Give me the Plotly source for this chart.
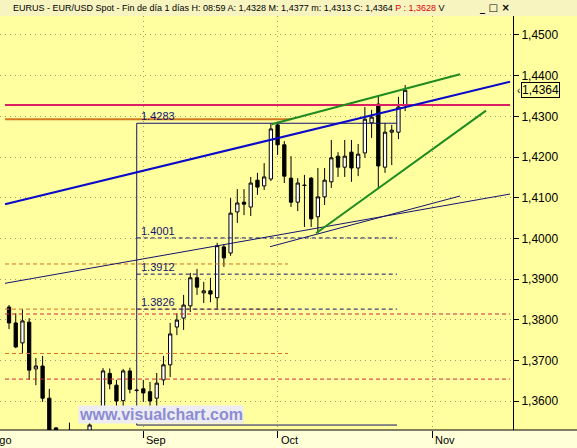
import numpy as np
import plotly.graph_objects as go

# ---------------- data ----------------
dates = [
    "2007-08-06", "2007-08-07", "2007-08-08", "2007-08-09", "2007-08-10",
    "2007-08-13", "2007-08-14", "2007-08-15", "2007-08-16", "2007-08-17",
    "2007-08-20", "2007-08-21", "2007-08-22", "2007-08-23", "2007-08-24",
    "2007-08-27", "2007-08-28", "2007-08-29", "2007-08-30", "2007-08-31",
    "2007-09-03", "2007-09-04", "2007-09-05", "2007-09-06", "2007-09-07",
    "2007-09-10", "2007-09-11", "2007-09-12", "2007-09-13", "2007-09-14",
    "2007-09-17", "2007-09-18", "2007-09-19", "2007-09-20", "2007-09-21",
    "2007-09-24", "2007-09-25", "2007-09-26", "2007-09-27", "2007-09-28",
    "2007-10-01", "2007-10-02", "2007-10-03", "2007-10-04", "2007-10-05",
    "2007-10-08", "2007-10-09", "2007-10-10", "2007-10-11", "2007-10-12",
    "2007-10-15", "2007-10-16", "2007-10-17", "2007-10-18", "2007-10-19",
    "2007-10-22", "2007-10-23", "2007-10-24", "2007-10-25", "2007-10-26",
]
opens = [
    1.3831, 1.3792, 1.3743, 1.3794, 1.3679, 1.3686, 1.3607, 1.3534, 1.3440, 1.3420,
    1.3490, 1.3475, 1.3470, 1.3560, 1.3578, 1.3668, 1.3639, 1.3601, 1.3674, 1.3627,
    1.3630, 1.3623, 1.3607, 1.3652, 1.3689, 1.3782, 1.3804, 1.3834, 1.3903, 1.3866,
    1.3871, 1.3854, 1.3979, 1.3964, 1.4065, 1.4089, 1.4077, 1.4143, 1.4129, 1.4146,
    1.4279, 1.4230, 1.4148, 1.4089, 1.4131, 1.4148, 1.4053, 1.4102, 1.4139, 1.4202,
    1.4175, 1.4212, 1.4173, 1.4210, 1.4284, 1.4330, 1.4175, 1.4261, 1.4261, 1.4328,
]
highs = [
    1.3836, 1.3816, 1.3826, 1.3804, 1.3706, 1.3711, 1.3630, 1.3536, 1.3490, 1.3547,
    1.3525, 1.3515, 1.3553, 1.3588, 1.3681, 1.3680, 1.3652, 1.3679, 1.3682, 1.3631,
    1.3652, 1.3647, 1.3669, 1.3711, 1.3792, 1.3816, 1.3861, 1.3915, 1.3925, 1.3893,
    1.3903, 1.3989, 1.3986, 1.4099, 1.4121, 1.4121, 1.4151, 1.4161, 1.4185, 1.4283,
    1.4282, 1.4239, 1.4202, 1.4148, 1.4156, 1.4151, 1.4173, 1.4173, 1.4242, 1.4212,
    1.4242, 1.4242, 1.4232, 1.4323, 1.4316, 1.4350, 1.4284, 1.4279, 1.4348, 1.4377,
]
lows = [
    1.3777, 1.3730, 1.3718, 1.3652, 1.3639, 1.3598, 1.3430, 1.3380, 1.3262, 1.3380,
    1.3440, 1.3420, 1.3455, 1.3548, 1.3548, 1.3629, 1.3586, 1.3586, 1.3619, 1.3622,
    1.3598, 1.3549, 1.3583, 1.3639, 1.3659, 1.3762, 1.3775, 1.3819, 1.3861, 1.3841,
    1.3843, 1.3824, 1.3930, 1.3957, 1.4038, 1.4057, 1.4055, 1.4107, 1.4119, 1.4141,
    1.4205, 1.4136, 1.4077, 1.4067, 1.4028, 1.4028, 1.4013, 1.4082, 1.4124, 1.4151,
    1.4151, 1.4139, 1.4153, 1.4198, 1.4247, 1.4121, 1.4161, 1.4180, 1.4244, 1.4313,
]
closes = [
    1.3792, 1.3733, 1.3797, 1.3676, 1.3686, 1.3607, 1.3450, 1.3440, 1.3420, 1.3500,
    1.3475, 1.3460, 1.3541, 1.3578, 1.3674, 1.3642, 1.3600, 1.3674, 1.3629, 1.3626,
    1.3620, 1.3600, 1.3644, 1.3689, 1.3765, 1.3799, 1.3836, 1.3903, 1.3880, 1.3871,
    1.3863, 1.3982, 1.3952, 1.4062, 1.4087, 1.4084, 1.4136, 1.4126, 1.4151, 1.4269,
    1.4230, 1.4153, 1.4089, 1.4136, 1.4130, 1.4048, 1.4102, 1.4143, 1.4198, 1.4175,
    1.4202, 1.4173, 1.4207, 1.4293, 1.4298, 1.4178, 1.4261, 1.4266, 1.4323, 1.4364,
]

month_labels = ["Ago", "Sep", "Oct", "Nov"]
month_starts = ["2007-08-01", "2007-09-01", "2007-10-01", "2007-11-01"]
price_ticks = [1.36, 1.37, 1.38, 1.39, 1.40, 1.41, 1.42, 1.43, 1.44, 1.45]

last_close = 1.4364
header_text = "EURUS - EUR/USD Spot - Fin de día 1 días H: 08:59 A: 1,4328 M: 1,4377 m: 1,4313 C: 1,4364 "
header_prev = "P : 1,3628"

# drawing tools: (bar position, price) anchors
blue_trend = [(-0.60, 1.40837), (74.62, 1.43852)]
green_upper = [(39.12, 1.42804), (67.17, 1.44034)]
green_lower = [(45.72, 1.40124), (71.04, 1.43139)]
navy_a = [(-0.60, 1.38895), (74.62, 1.41090)]
navy_b = [(38.87, 1.39795), (67.17, 1.41041)]
magenta_level = 1.4328
orange_level = 1.4293
orange_dashed_levels = [1.3937, 1.3826, 1.3717]
red_dashed_levels = [1.3814, 1.3654]
fib_high, fib_low = 1.4283, 1.3541
fib_levels = [1.4001, 1.3912, 1.3826]
fib_span = (19.02, 57.79)
left_start, right_end, orange_end = -0.60, 74.62, 42.0

# ---------------- figure ----------------
base = np.datetime64(dates[0])
xpos = np.busday_count(base, np.array(dates, dtype="datetime64[D]")).tolist()
month_pos = np.busday_count(base, np.array(month_starts, dtype="datetime64[D]")).tolist()

W, H = 577, 448
ML, MR, MT, MB = 0, 64, 16, 18
PW, PH = W - ML - MR, H - MT - MB
XR = [-1.344, 75.06]
def px(x):
    return x / PW
def py(y):
    return (H - MB - y) / PH
def xpaper(v):
    return (v - XR[0]) / (XR[1] - XR[0])

PLOT_BG = "#FFFFA0"
FONT = "Liberation Sans, Arial, sans-serif"

fig = go.Figure()
fig.add_trace(go.Candlestick(
    x=xpos, open=opens, high=highs, low=lows, close=closes,
    increasing=dict(line=dict(color="black", width=1), fillcolor="white"),
    decreasing=dict(line=dict(color="black", width=1), fillcolor="black"),
    whiskerwidth=0, showlegend=False, hoverinfo="skip",
))

shapes = []
def seg(p0, p1, color, width, dash="solid"):
    shapes.append(dict(type="line", xref="x", yref="y", x0=p0[0], y0=p0[1], x1=p1[0], y1=p1[1],
                       line=dict(color=color, width=width, dash=dash), layer="above"))

# horizontal levels
seg((left_start, magenta_level), (right_end, magenta_level), "#DC1E64", 2)
seg((left_start, orange_level), (orange_end, orange_level), "#D2781E", 2)
for lv in orange_dashed_levels:
    seg((left_start, lv), (41.55, lv), "#D2701E", 1, "4px,3px")
for lv in red_dashed_levels:
    seg((left_start, lv), (right_end, lv), "#C8283C", 1, "4px,3px")

# fib box
NAVY = "#14146E"
seg((fib_span[0], fib_high), (fib_span[1], fib_high), NAVY, 1)
seg((fib_span[0], fib_low), (fib_span[1], fib_low), NAVY, 1)
seg((fib_span[0], fib_high), (fib_span[0], fib_low), NAVY, 1)
for lv in fib_levels:
    seg((fib_span[0], lv), (fib_span[1], lv), NAVY, 1, "4px,3px")

# trendlines
seg(*navy_a, NAVY, 1)
seg(*navy_b, NAVY, 1)
seg(*blue_trend, "#0A0AC8", 2)
seg(*green_upper, "#1E8C1E", 2)
seg(*green_lower, "#1E8C1E", 2)

# background panels
shapes.append(dict(type="rect", xref="paper", yref="paper", x0=1, x1=W / PW + 0.01, y0=0, y1=1,
                   fillcolor=PLOT_BG, line=dict(width=0), layer="below"))
shapes.append(dict(type="line", xref="paper", yref="paper", x0=0, x1=W / PW + 0.01, y0=0, y1=0,
                   line=dict(color="black", width=1), layer="above"))
shapes.append(dict(type="rect", xref="paper", yref="paper", x0=-0.01, x1=W / PW + 0.01, y0=1, y1=py(-2),
                   fillcolor="#F8F4C0", line=dict(width=0), layer="below"))

annotations = []
for lv in [fib_high] + fib_levels:
    annotations.append(dict(x=fib_span[0], y=lv, xref="x", yref="y", text=f"{lv:.4f}",
                            xanchor="left", yanchor="bottom", xshift=2, yshift=-1, showarrow=False,
                            font=dict(family=FONT, size=11, color=NAVY)))
for lab, mp in zip(month_labels, month_pos):
    annotations.append(dict(x=xpaper(mp), y=0, xref="paper", yref="paper", text=lab, xanchor="left",
                            yanchor="top", xshift=1, yshift=-2, showarrow=False,
                            font=dict(family=FONT, size=11, color="black")))
annotations.append(dict(x=px(11), y=py(8), xref="paper", yref="paper", xanchor="left", yanchor="middle",
                        text=header_text + f"<span style='color:#E00000'>{header_prev}</span> V",
                        showarrow=False,
                        font=dict(family=FONT, size=9, color="black")))
annotations.append(dict(x=px(495), y=py(8), xref="paper", yref="paper", xanchor="center", yanchor="middle",
                        text="<b>_ □ ×</b>", showarrow=False, bgcolor="#F8F4C0",
                        font=dict(family="DejaVu Sans", size=10, color="black")))
annotations.append(dict(x=px(160.5), y=py(414), xref="paper", yref="paper", xanchor="center",
                        yanchor="middle", text="<b>www.visualchart.com</b>", showarrow=False,
                        bgcolor="#ECECF2", borderpad=0,
                        font=dict(family=FONT, size=16, color="#8C8CD2")))
annotations.append(dict(x=px(521), y=last_close, xref="paper", yref="y", xanchor="left", yanchor="middle",
                        text=f"{last_close:.4f}".replace(".", ","), showarrow=False,
                        bgcolor=PLOT_BG, bordercolor="black", borderwidth=1, borderpad=0,
                        font=dict(family=FONT, size=12, color="black")))
annotations.append(dict(x=px(514.5), y=last_close, xref="paper", yref="y", xanchor="left", yanchor="middle",
                        text="‹", showarrow=False, font=dict(family=FONT, size=10, color="black")))

fig.update_layout(
    width=W, height=H, margin=dict(l=ML, r=MR, t=MT, b=MB, pad=0),
    paper_bgcolor="#FFFFD8", plot_bgcolor=PLOT_BG,
    separators=",.", showlegend=False,
    shapes=shapes, annotations=annotations,
    xaxis=dict(range=XR, rangeslider=dict(visible=False),
               tickvals=month_pos, ticktext=["", "", "", ""], ticks="outside", ticklen=7,
               tickcolor="black", showgrid=True, gridcolor="#9C9C6C", griddash="1px,4px",
               gridwidth=1, zeroline=False, showline=False, fixedrange=True),
    yaxis=dict(range=[1.35288, 1.45467], side="right", tickvals=price_ticks, tickformat=".4f",
               ticks="outside", ticklen=5, tickcolor="black", showline=True, linecolor="black",
               linewidth=1, showgrid=True, gridcolor="#9C9C6C", griddash="1px,4px", gridwidth=1,
               zeroline=False, tickfont=dict(family=FONT, size=12, color="black")),
    font=dict(family=FONT),
)

fig.write_html("out.html", config={"displayModeBar": False},
               post_script="document.body.style.margin='0';document.body.style.overflow='hidden';")
